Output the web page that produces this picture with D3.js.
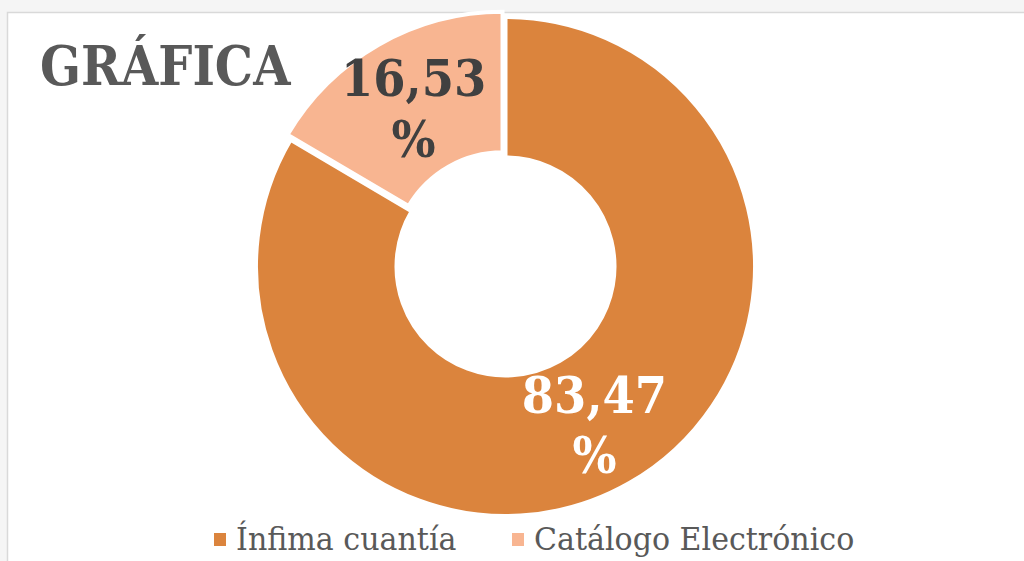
<!DOCTYPE html>
<html>
<head>
<meta charset="utf-8">
<script src="https://cdn.jsdelivr.net/npm/d3@7"></script>
<style>
  html, body { margin: 0; padding: 0; background: #f4f4f4; }
  svg { display: block; }
</style>
</head>
<body>
<svg id="chart" width="1024" height="561"></svg>
<script>
// data
const categories = ["Ínfima cuantía", "Catálogo Electrónico"];
const values = [83.47, 16.53];
const labels = ["83,47", "16,53"];
const colors = ["#DB843D", "#F8B591"];
const labelColors = ["#ffffff", "#404040"];
const exploded = [0, 6];

const svg = d3.select("#chart");
const width = 1024;
const height = 561;
const cx = 505.5;
const cy = 266.5;
const outer = 249.5;
const inner = 109;

// squeeze DejaVu glyphs a bit so they look closer to the narrower original face
function squeeze(sel, k) {
  sel.each(function () {
    const w = this.getComputedTextLength();
    d3.select(this).attr("textLength", w * k).attr("lengthAdjust", "spacingAndGlyphs");
  });
}

// page frame: grey strip top/left, white panel with thin border
svg.append("rect").attr("width", width).attr("height", height).attr("fill", "#f5f5f5");
svg.append("rect")
  .attr("x", 7.5).attr("y", 12.5)
  .attr("width", width + 10).attr("height", height)
  .attr("fill", "#ffffff")
  .attr("stroke", "#d9d9d9")
  .attr("stroke-width", 1.5);

svg.append("text")
  .attr("x", 40).attr("y", 85)
  .attr("font-family", "DejaVu Serif")
  .attr("font-weight", "bold")
  .attr("font-size", 54)
  .attr("fill", "#595959")
  .text("GRÁFICA")
  .call(squeeze, 0.89);

const data = categories.map((c, i) => ({ name: c, value: values[i], label: labels[i], color: colors[i], lc: labelColors[i], off: exploded[i] }));

const pie = d3.pie().sort(null).value((d) => d.value);
const arc = d3.arc().innerRadius(inner).outerRadius(outer);

const slices = svg
  .append("g")
  .attr("transform", `translate(${cx},${cy})`)
  .selectAll(".arc")
  .data(pie(data))
  .enter()
  .append("g")
  .attr("class", "arc")
  .attr("transform", (d) => {
    const a = (d.startAngle + d.endAngle) / 2;
    return `translate(${d.data.off * Math.sin(a)},${-d.data.off * Math.cos(a)})`;
  });

slices
  .append("path")
  .attr("d", arc)
  .attr("fill", (d) => d.data.color)
  .attr("stroke", "#ffffff")
  .attr("stroke-width", 4)
  .attr("stroke-linejoin", "miter");

// two-line value labels at slice centroid
const lblPos = (d) => `translate(${arc.centroid(d)})`;
[["label", -9.5], ["pct", 51]].forEach(([key, dy]) => {
  slices
    .append("text")
    .attr("transform", lblPos)
    .attr("y", dy)
    .attr("text-anchor", "middle")
    .attr("font-family", "DejaVu Serif")
    .attr("font-weight", "bold")
    .attr("font-size", 51)
    .attr("fill", (d) => d.data.lc)
    .text((d) => (key === "label" ? d.data.label : "%"))
    .call(squeeze, 0.91);
});

// legend
const legendX = [214, 512];
const legend = svg
  .selectAll(".legend")
  .data(data)
  .enter()
  .append("g")
  .attr("class", "legend")
  .attr("transform", (d, i) => `translate(${legendX[i]},533)`);

legend.append("rect")
  .attr("width", 12).attr("height", 13)
  .attr("fill", (d) => d.color);

legend.append("text")
  .attr("x", 22).attr("y", 17)
  .attr("font-family", "DejaVu Serif")
  .attr("font-size", 31)
  .attr("fill", "#595959")
  .text((d) => d.name)
  .call(squeeze, 0.97);
</script>
</body>
</html>
